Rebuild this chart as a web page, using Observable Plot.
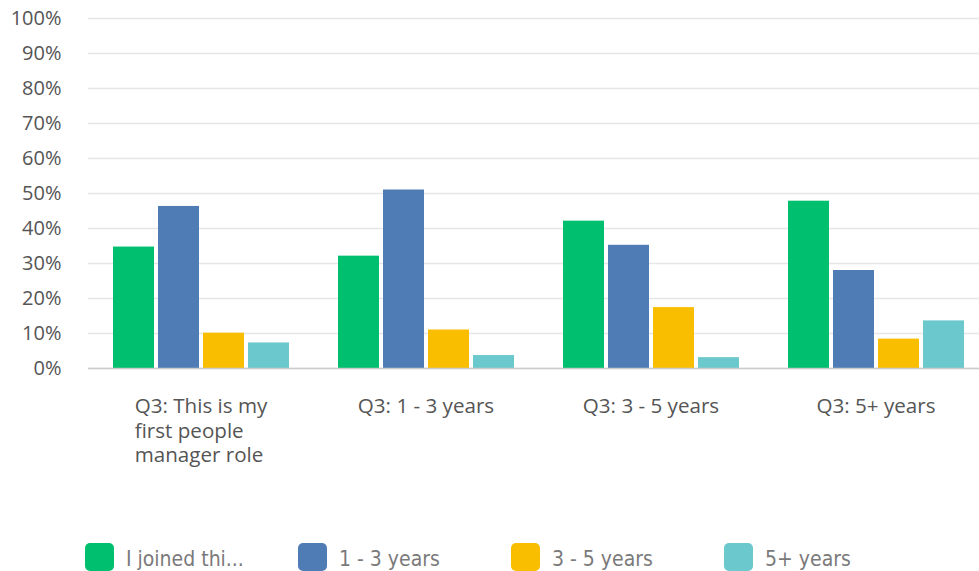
<!DOCTYPE html>
<html>
<head>
<meta charset="utf-8">
<script src="https://cdn.jsdelivr.net/npm/d3@7"></script>
<script src="https://cdn.jsdelivr.net/npm/@observablehq/plot@0.6"></script>
<style>
  body { margin: 0; background: #fff; }
  #chart svg { display: block; overflow: hidden; }
  .legend { display: flex; margin-top: 43px; padding-left: 85px;
    font-family: "DejaVu Sans Condensed", "DejaVu Sans", sans-serif; font-stretch: condensed;
    font-size: 21px; color: #7a7a7a; }
  .legend .item { display: flex; align-items: center; width: 213px; }
  .legend .sw { width: 29px; height: 28px; border-radius: 5px; margin-right: 12px; flex: none; }
  .legend .lab { position: relative; top: 2px; }
</style>
</head>
<body>
<div id="chart"></div>
<div class="legend" id="legend"></div>
<script>
const categories = [
  "Q3: This is my first people manager role",
  "Q3: 1 - 3 years",
  "Q3: 3 - 5 years",
  "Q3: 5+ years"
];
const series = ["I joined thi...", "1 - 3 years", "3 - 5 years", "5+ years"];
const colors = ["#00BF6F", "#507CB6", "#F9BE00", "#6BC8CD"];
const joinedValues = [34.7, 32.1, 42.1, 47.8];
const years1to3Values = [46.3, 51.0, 35.2, 28.0];
const years3to5Values = [10.1, 11.0, 17.4, 8.4];
const years5plusValues = [7.3, 3.7, 3.1, 13.6];
const yTicks = [0, 10, 20, 30, 40, 50, 60, 70, 80, 90, 100];

const seriesValues = [joinedValues, years1to3Values, years3to5Values, years5plusValues];
const table = [];
categories.forEach((g, i) => {
  series.forEach((s, j) => table.push({group: g, series: s, value: seriesValues[j][i]}));
});

const plot = Plot.plot({
  width: 979,
  height: 500,
  marginTop: 18,
  marginBottom: 132,
  marginLeft: 88,
  marginRight: 0,
  style: {fontFamily: "'Open Sans', sans-serif", fontSize: "20px", color: "#555", overflow: "hidden"},
  fx: {domain: categories, range: [88, 988], paddingInner: 0, paddingOuter: 0, label: null},
  x: {domain: series, paddingInner: 0.09, paddingOuter: 0.54, axis: null},
  y: {domain: [0, 100], label: null},
  color: {domain: series, range: colors},
  marks: [
    Plot.ruleY(yTicks, {stroke: "#e6e6e6", strokeWidth: 1.5}),
    Plot.barY(table, {fx: "group", x: "series", y: "value", fill: "series"}),
    Plot.ruleY([0], {stroke: "#cccccc", strokeWidth: 1.5}),
    Plot.axisY({ticks: yTicks, tickSize: 0, tickPadding: 27, tickFormat: d => d + "%",
      line: true, stroke: "#cccccc", strokeWidth: 1.5, fontSize: 20, label: null}),
    Plot.axisFx({anchor: "bottom", tickSize: 0, tickPadding: 27, lineWidth: 7.3, lineHeight: 1.2,
      fontSize: 20.6, label: null})
  ]
});
document.getElementById("chart").append(plot);

// left-align wrapped tick label lines as one centered block
plot.querySelectorAll("text").forEach(t => {
  const spans = t.querySelectorAll("tspan");
  if (spans.length > 1) {
    const bb = t.getBBox();
    t.setAttribute("text-anchor", "start");
    spans.forEach(s => s.setAttribute("x", bb.x));
  }
});

const legend = document.getElementById("legend");
series.forEach((s, i) => {
  const item = document.createElement("div");
  item.className = "item";
  const sw = document.createElement("span");
  sw.className = "sw";
  sw.style.background = colors[i];
  const label = document.createElement("span");
  label.className = "lab";
  label.textContent = s;
  item.append(sw, label);
  legend.append(item);
});
</script>
</body>
</html>
